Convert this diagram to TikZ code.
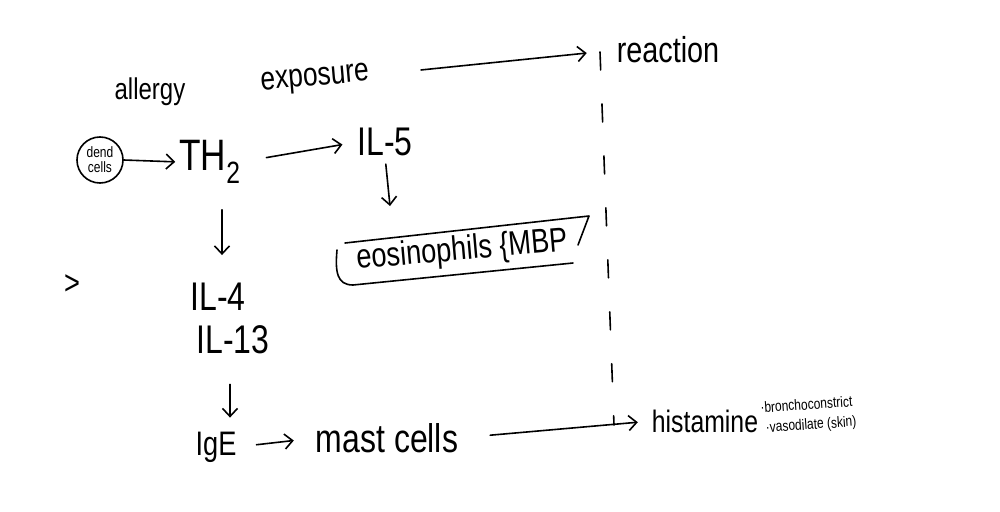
\documentclass[tikz,border=0pt]{standalone}
\usepackage{fontspec}
\setmainfont{Liberation Sans}[FakeStretch=0.8]
\usetikzlibrary{arrows.meta}
\begin{document}
\begin{tikzpicture}[x=1pt,y=-1pt,
  ink/.style={line width=1.6pt, line cap=round, line join=round},
  hw/.style={font=\fontsize{#1}{#1}\selectfont, inner sep=0pt},
  hw/.default=30,
  small/.style={font=\fontsize{15}{20}\selectfont, inner sep=0pt, align=left},
  arr/.style={ink, -{Straight Barb[length=8pt,width=15pt,line width=1.6pt]}}]
\useasboundingbox[fill=white] (0,0) rectangle (1000,511);

% top row
\node[hw=30] (allergy) at (150,92) {allergy};
\node[hw=33, rotate=5] (exposure) at (315,80) {exposure};
\node[hw=36] (reaction) at (668,50) {reaction};
\draw[arr, shorten <=52pt, shorten >=30pt] (exposure.east) -- (reaction.west);

% dashed separator
\coordinate (dtop) at (600,52);
\coordinate (dbot) at (614,425);
\draw[ink, dash pattern=on 18pt off 34pt] (dtop) -- (dbot);

% dendritic cells -> TH2
\node[draw, ink, circle, minimum size=46pt, inner sep=0pt,
      font=\fontsize{15}{15}\selectfont, align=center] (dend) at (100,160) {dend\\cells};
\node[hw=44] (th2) at (210,162) {TH\textsubscript{2}};
\draw[arr, shorten >=4pt] (dend.east) -- (th2.west);

% TH2 -> IL-5 -> eosinophils
\node[hw=40] (il5) at (385,142) {IL-5};
\draw[arr, shorten <=26pt, shorten >=15pt] (th2.east) -- (il5.west);
\coordinate (boxtop) at (390,206);
\draw[arr, shorten <=8pt] (il5.south) -- (boxtop);
\node[hw=34, rotate=5] (eos) at (462,251) {eosinophils \{MBP};
\draw[ink] (345,243) -- (589,216) -- (578,245);
\draw[ink] (337,250) .. controls (335,272) and (337,285) .. (353,285) -- (573,263);

% TH2 -> IL-4 / IL-13 -> IgE -> mast cells -> histamine
\node[hw=40] (il4) at (218,297) {IL-4};
\node[hw=40] (il13) at (233,340) {IL-13};
\draw[arr, shorten <=26pt, shorten >=28pt] ([xshift=12pt]th2.south) -- ([xshift=4pt]il4.north);
\node[hw=34] (ige) at (216,447) {IgE};
\draw[arr, shorten <=30pt, shorten >=14pt] ([xshift=-3pt]il13.south) -- ([xshift=14pt]ige.north);
\node[hw=40] (mast) at (387,438) {mast cells};
\draw[arr, shorten <=20pt, shorten >=22pt] (ige.east) -- (mast.west);
\node[hw=31] (hist) at (705,421) {histamine};
\draw[arr, shorten <=32pt, shorten >=14pt] (mast.east) -- (hist.west);
\node[small, rotate=4, anchor=west] (effects) at (761,419)
  {·bronchoconstrict\\\hspace*{4pt}·vasodilate (skin)};

% stray mark at left
\node[hw=34] (mark) at (72,285) {>};
\end{tikzpicture}
\end{document}
